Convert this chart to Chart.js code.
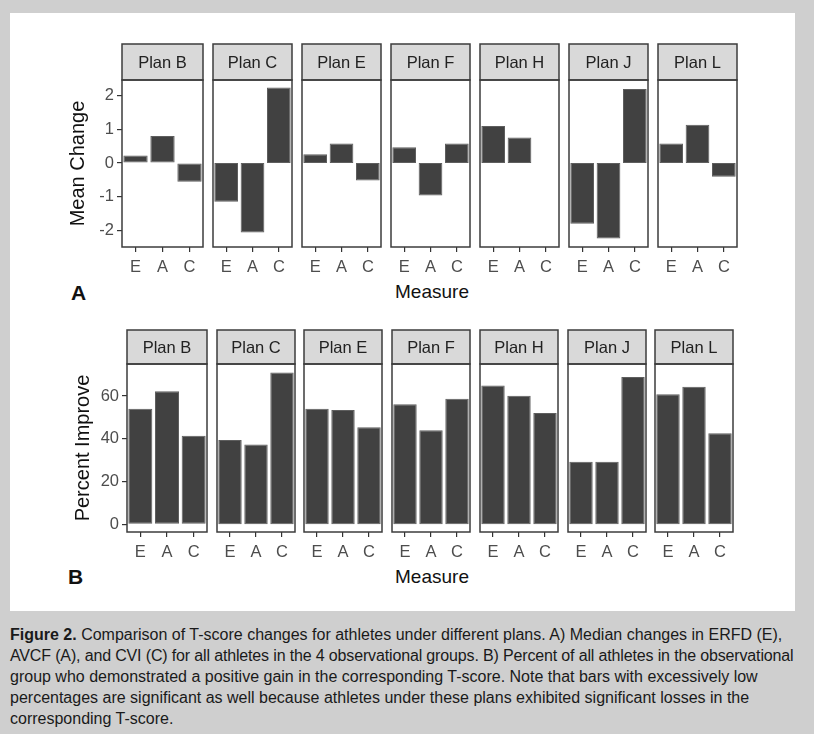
<!DOCTYPE html>
<html lang="en">
<head>
  <meta charset="UTF-8" />
  <title>Figure 2</title>
  <script src="https://cdn.jsdelivr.net/npm/chart.js"></script>
  <style>
    html, body {
      margin: 0;
      padding: 0;
      background: #cfcfcf;
    }
    #page {
      position: relative;
      width: 814px;
      height: 734px;
      overflow: hidden;
      font-family: "Liberation Sans", Arial, sans-serif;
    }
    #sheet {
      position: absolute;
      left: 10px;
      top: 13px;
      width: 785px;
      height: 598px;
      background: #fff;
    }
    .panel {
      position: absolute;
    }
    .lbl {
      position: absolute;
      color: #111;
      white-space: nowrap;
    }
    .tag {
      font-weight: bold;
      font-size: 21px;
    }
    .xtitle {
      font-size: 19px;
      transform: translateX(-50%);
    }
    #caption {
      position: absolute;
      left: 10px;
      top: 624px;
      font-size: 16px;
      line-height: 21px;
      color: #1a1a1a;
      white-space: nowrap;
    }
    #caption .tight {
      letter-spacing: -0.15px;
    }
  </style>
</head>
<body>
  <div id="page">
    <div id="sheet"></div>

    <div class="lbl tag" style="left:71px; top:281px;">A</div>
    <div class="lbl xtitle" style="left:432px; top:281px;">Measure</div>
    <div class="lbl tag" style="left:68px; top:565px;">B</div>
    <div class="lbl xtitle" style="left:432px; top:566px;">Measure</div>

    <div id="caption">
      <b>Figure 2.</b> Comparison of T-score changes for athletes under different plans. A) Median changes in ERFD (E),<br>
      <span class="tight">AVCF (A), and CVI (C) for all athletes in the 4 observational groups. B) Percent of all athletes in the observational</span><br>
      group who demonstrated a positive gain in the corresponding T-score. Note that bars with excessively low<br>
      percentages are significant as well because athletes under these plans exhibited significant losses in the<br>
      corresponding T-score.
    </div>
  </div>

  <script>
    // adatok
    const plans = ['Plan B', 'Plan C', 'Plan E', 'Plan F', 'Plan H', 'Plan J', 'Plan L'];
    const measures = ['E', 'A', 'C'];

    // A) mean change
    const changeE = [0.22, -1.15, 0.26, 0.47, 1.10, -1.81, 0.58];
    const changeA = [0.80, -2.07, 0.58, -0.97, 0.76, -2.25, 1.14];
    const changeC = [-0.56, 2.25, -0.52, 0.58, 0, 2.20, -0.41];
    const changeTicks = [-2, -1, 0, 1, 2];

    // B) percent improve
    const improveE = [54.1, 39.5, 54.1, 56.2, 64.9, 29.3, 60.9];
    const improveA = [62.3, 37.3, 53.5, 44.0, 60.1, 29.3, 64.3];
    const improveC = [41.4, 71.0, 45.4, 58.8, 52.1, 68.9, 42.6];
    const improveTicks = [0, 20, 40, 60];

    const FONT = '"Liberation Sans", Arial, sans-serif';
    const EDGE = 2;       // room for the frame line
    const YAXIS_W = 60;   // width of the y axis on the first panel
    const XAXIS_H = 34;

    // facet strip + panel border
    const facetFrame = {
      id: 'facetFrame',
      afterDraw(chart, args, opts) {
        const { ctx, chartArea: a } = chart;
        ctx.save();
        ctx.lineWidth = 1.5;
        ctx.strokeStyle = '#3c3c3c';
        ctx.fillStyle = '#d9d9d9';
        ctx.fillRect(a.left, a.top - opts.stripH, a.right - a.left, opts.stripH);
        ctx.strokeRect(a.left, a.top - opts.stripH, a.right - a.left, opts.stripH);
        ctx.strokeRect(a.left, a.top, a.right - a.left, a.bottom - a.top);
        ctx.fillStyle = '#222';
        ctx.font = '16.5px ' + FONT;
        ctx.textAlign = 'center';
        ctx.textBaseline = 'middle';
        ctx.fillText(opts.text, (a.left + a.right) / 2, a.top - opts.stripH / 2 + 1);
        ctx.restore();
      }
    };

    function makePanel(row, i, values, yMin, yMax, ticks, yTitle) {
      const first = i === 0;
      const px = row.x0 + i * row.step;
      const left = px - EDGE - (first ? YAXIS_W : 0);
      const width = row.w + 2 * EDGE + (first ? YAXIS_W : 0);
      const top = row.top - EDGE;
      const height = row.bottom - row.top + EDGE + XAXIS_H;

      const box = document.createElement('div');
      box.className = 'panel';
      box.style.cssText = `left:${left}px;top:${top}px;width:${width}px;height:${height}px;`;
      const cv = document.createElement('canvas');
      box.appendChild(cv);
      document.getElementById('page').appendChild(box);

      const yScale = {
        display: first,
        min: yMin,
        max: yMax,
        afterBuildTicks: s => { s.ticks = ticks.map(v => ({ value: v })); },
        border: { display: false },
        grid: { drawOnChartArea: false, tickLength: 5, color: '#333', lineWidth: 1.2 },
        ticks: { color: '#4d4d4d', padding: 3, font: { family: FONT, size: 16.5 } },
        title: {
          display: true,
          text: yTitle,
          color: '#111',
          padding: { top: 4, bottom: 0 },
          font: { family: FONT, size: 20 }
        }
      };
      if (first) yScale.afterFit = s => { s.width = YAXIS_W; };

      new Chart(cv.getContext('2d'), {
        type: 'bar',
        data: {
          labels: measures,
          datasets: [{
            data: values,
            backgroundColor: '#414141',
            borderColor: '#5e5e5e',
            borderWidth: 1,
            borderSkipped: false,
            categoryPercentage: 1,
            barPercentage: 0.9
          }]
        },
        options: {
          responsive: true,
          maintainAspectRatio: false,
          animation: false,
          layout: {
            padding: { top: row.stripH + EDGE, left: first ? 0 : EDGE, right: EDGE, bottom: 0 }
          },
          plugins: {
            legend: { display: false },
            tooltip: { enabled: false },
            facetFrame: { text: plans[i], stripH: row.stripH }
          },
          scales: {
            x: {
              afterFit: s => { s.height = XAXIS_H; },
              border: { display: false },
              grid: { drawOnChartArea: false, offset: false, tickLength: 5, color: '#333', lineWidth: 1.2 },
              ticks: { color: '#4d4d4d', padding: 6, maxRotation: 0, autoSkip: false, font: { family: FONT, size: 16.5 } }
            },
            y: yScale
          }
        },
        plugins: [facetFrame]
      });
    }

    const rowA = { top: 44, stripH: 36, bottom: 247, x0: 124, step: 89, w: 79 };
    const rowB = { top: 330, stripH: 34, bottom: 532, x0: 129, step: 87.7, w: 78 };

    plans.forEach((p, i) => {
      makePanel(rowA, i, [changeE[i], changeA[i], changeC[i]], -2.5, 2.47, changeTicks, 'Mean Change');
      makePanel(rowB, i, [improveE[i], improveA[i], improveC[i]], -3.6, 75, improveTicks, 'Percent Improve');
    });
  </script>
</body>
</html>
